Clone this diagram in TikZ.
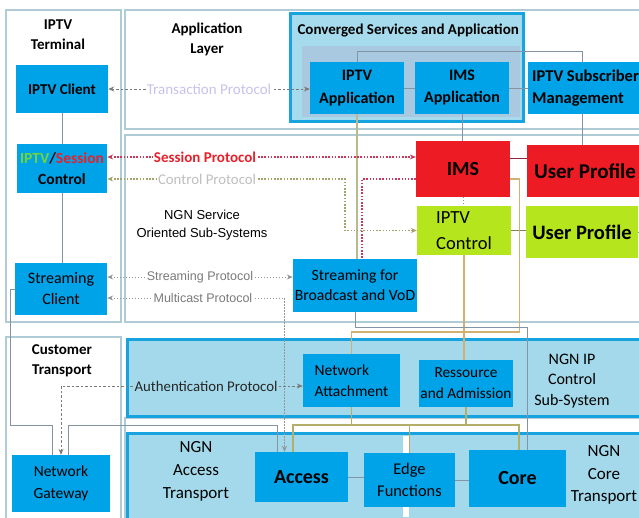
\documentclass[tikz,border=0pt]{standalone}
\usepackage{fontspec}
\setmainfont{Carlito}
\newfontfamily\arialfont{Liberation Sans}
\usepackage{tikz}
\usetikzlibrary{arrows.meta}
\usetikzlibrary{calc}
\definecolor{boxblue}{HTML}{00A2E8}
\definecolor{panelline}{HTML}{AFCBD5}
\definecolor{ngnblue}{HTML}{16A3E0}
\definecolor{ngnfill}{HTML}{A3D9EA}
\definecolor{convfill}{HTML}{A5DBEC}
\definecolor{convinner}{HTML}{A9C9E0}
\definecolor{imsred}{HTML}{ED1C24}
\definecolor{iptvgreen}{HTML}{B5E61D}
\definecolor{linkgray}{HTML}{8494A4}
\definecolor{sessred}{HTML}{C8385A}
\definecolor{ctlolive}{HTML}{A3A36A}
\definecolor{tanline}{HTML}{D2B071}
\definecolor{oliveline}{HTML}{B9B98C}
\definecolor{busline}{HTML}{B3AE6A}
\definecolor{lavender}{HTML}{C9C2EA}
\definecolor{sessionred}{HTML}{E8202A}
\definecolor{termgreen}{HTML}{72D63A}
\definecolor{protogray}{HTML}{7A7A7A}

\begin{document}
\begin{tikzpicture}[x=1pt,y=-1pt,
  panel/.style={draw=panelline,line width=1.5pt},
  ngnpanel/.style={draw=ngnblue,line width=3pt,fill=ngnfill},
  box/.style={fill=boxblue,inner sep=0pt,align=center},
  redbox/.style={box,fill=imsred},
  greenbox/.style={box,fill=iptvgreen},
  layertitle/.style={align=center,font=\fontsize{15}{20}\selectfont\bfseries},
  link/.style={draw=linkgray,line width=1pt},
  tanl/.style={draw=tanline,line width=1.2pt},
  bus/.style={draw=busline,line width=1.2pt},
  tips/.style={arrows={Stealth[length=6pt,width=5pt]-Stealth[length=6pt,width=5pt]}},
  protolbl/.style={fill=white,inner sep=1pt},
  txline/.style={draw=protogray,line width=0.8pt,dash pattern=on 2.5pt off 2pt,tips},
  sessline/.style={draw=sessred,line width=1.5pt,dash pattern=on 1.5pt off 1.7pt},
  ctlline/.style={draw=ctlolive,line width=1.5pt,dash pattern=on 1.5pt off 1.7pt},
  strline/.style={draw=protogray!80,line width=0.8pt,dash pattern=on 1.5pt off 1.5pt,tips}]
\useasboundingbox (0,0) rectangle (639,517);

% layer panels
\draw[panel] (6,10) rectangle (121,322);
\draw[panel] (125,10) rectangle (650,129);
\draw[panel] (125,135) rectangle (650,322);
\draw[panel] (6,337) rectangle (121,530);
\draw[panel] (125,418) rectangle (650,530);
\draw[ngnpanel] (127,339) rectangle (650,416);
\draw[ngnpanel] (127,433) rectangle (650,530);
\fill[white] (403,436) rectangle (409,517);
\draw[draw=ngnblue,line width=3pt,fill=convfill] (290,13) rectangle (523,121);
\fill[convinner] (302,46) rectangle (520,117);

% titles
\node[layertitle] (termlbl) at (58,35) {IPTV\\Terminal};
\node[layertitle] (applbl) at (207,39) {Application\\Layer};
\node[layertitle] (custlbl) at (62,361) {Customer\\Transport};
\node[anchor=west,font=\fontsize{15}{18}\selectfont\bfseries] (convlbl) at (294,30) {Converged Services and Application};
\node[align=center,font=\arialfont\fontsize{13}{18}\selectfont] (ngnsvc) at (202,225) {NGN Service\\Oriented Sub-Systems};
\node[align=center,font=\fontsize{16}{20.5}\selectfont] (ipctl) at (572,381) {NGN IP\\Control\\Sub-System};
\node[align=center,font=\fontsize{17}{23}\selectfont] (acclbl) at (196,471) {NGN\\Access\\Transport};
\node[align=center,font=\fontsize{17}{22.5}\selectfont] (corelbl) at (604,475) {NGN\\Core\\Transport};

% terminal
\node[box,font=\fontsize{15}{20}\selectfont\bfseries,minimum width=92pt,minimum height=48pt] (tclient) at (62,89) {IPTV Client};
\node[box,font=\fontsize{15.5}{21}\selectfont\bfseries,minimum width=90pt,minimum height=49pt] (sessctl) at (62,168.5) {\textcolor{termgreen}{IPTV}/\textcolor{sessionred}{Session}\\Control};
\node[box,font=\fontsize{16}{21}\selectfont,minimum width=92pt,minimum height=52pt] (sclient) at (61,289) {Streaming\\Client};

% application layer
\node[box,font=\fontsize{16}{23}\selectfont\bfseries,minimum width=94pt,minimum height=52pt] (iptvapp) at (357,88) {IPTV\\Application};
\node[box,font=\fontsize{16}{22}\selectfont\bfseries,minimum width=94pt,minimum height=52pt] (imsapp) at (462,88) {IMS\\Application};
\node[box,font=\fontsize{16.5}{22}\selectfont\bfseries,anchor=west,inner xsep=4pt,minimum height=52pt,align=left] (subscr) at (528,88) {IPTV Subscriber\\Management};

% service sub-systems
\node[redbox,font=\fontsize{20}{24}\selectfont\bfseries,minimum width=94pt,minimum height=56pt] (ims) at (463,169) {IMS};
\node[redbox,font=\fontsize{21}{25}\selectfont\bfseries,minimum width=116pt,minimum height=52pt] (uprofr) at (585,171) {User Profile};
\node[greenbox,font=\fontsize{18.5}{26}\selectfont,minimum width=94pt,minimum height=49pt,align=left] (iptvctl) at (464,230.5) {IPTV\\Control};
\node[greenbox,font=\fontsize{20.5}{25}\selectfont\bfseries,minimum width=112pt,minimum height=52pt] (uprofg) at (582,232) {User Profile};
\node[box,font=\fontsize{15.7}{20}\selectfont,minimum width=124pt,minimum height=53pt] (stream) at (355,285.5) {Streaming for\\Broadcast and VoD};

% transport
\node[box,font=\fontsize{15.5}{21}\selectfont,minimum width=97pt,minimum height=53pt,align=left] (netatt) at (351.5,380.5) {Network\\Attachment};
\node[box,font=\fontsize{15.3}{21}\selectfont,minimum width=94pt,minimum height=47pt] (ressource) at (466,383.5) {Ressource\\and Admission};
\node[box,font=\fontsize{15.5}{22}\selectfont,minimum width=98pt,minimum height=57pt] (gateway) at (61,483.5) {Network\\Gateway};
\node[box,font=\fontsize{20}{24}\selectfont\bfseries,minimum width=93pt,minimum height=50pt] (access) at (301.5,477) {Access};
\node[box,font=\fontsize{16.4}{22}\selectfont,minimum width=91pt,minimum height=54pt] (edge) at (409.5,480) {Edge\\Functions};
\node[box,font=\fontsize{20}{24}\selectfont\bfseries,minimum width=97pt,minimum height=57pt] (core) at (517.5,478.5) {Core};

% plain links
\coordinate (busY) at (0,425);
\coordinate (gwin) at ([xshift=-9pt]gateway.north);
\coordinate (gwout) at ([xshift=7pt]gateway.north);
\coordinate (accin) at ([xshift=-24.5pt]access.north);
\coordinate (subtop) at (582,0);
\draw[link] (tclient.south) -- (tclient.south |- sessctl.north);
\draw[link] (sessctl.south) -- (sessctl.south |- sclient.north);
\draw[link] (sclient.west) -- ++(-4,0) |- (gwin |- busY) -- (gwin);
\draw[link] (gwout) |- (accin |- busY) -- (accin);
\draw[link] (iptvapp.east) -- (imsapp.west);
\draw[link] (imsapp.east) -- (imsapp.east -| subscr.west);
\draw[link] (iptvapp.north) -- ++(0,-10) -| (subtop |- subscr.north);
\draw[link] (subtop |- subscr.south) -- (subtop |- uprofr.north);
\draw[draw=oliveline,line width=1.2pt] (iptvapp.south) -- (iptvapp.south |- stream.north);
\draw[link] (imsapp.south) -- (imsapp.south |- ims.north);
\draw[link,dotted] (ims.south) -- (ims.south |- iptvctl.north);
\coordinate (imsE1) at ([yshift=11pt]ims.east);
\draw[link,draw=sessred!70!black] (imsE1) -- (imsE1 -| uprofr.west);
\draw[link,draw=ctlolive!80!black] (iptvctl.east) -- (iptvctl.east -| uprofg.west);
\draw[link] (uprofg.east) -- ++(8,0);
\coordinate (imsE2) at ([yshift=-10pt]ims.east);
\coordinate (tanY) at (0,332);
\draw[tanl] (imsE2) -- ++(9,0) |- (netatt.north |- tanY) -- (netatt.north);
\draw[tanl] (iptvctl.south) -- (iptvctl.south |- ressource.north);
\coordinate (coreIn) at ([xshift=9.5pt]core.north);
\draw[link] (stream.south) -- ++(0,15) -| (coreIn);
\coordinate (accBus) at ([xshift=-8.5pt]access.north);
\coordinate (coreBus) at ([xshift=1.5pt]core.north);
\draw[bus] (accBus) |- (coreBus |- busY) -- (coreBus);
\draw[bus] (edge.north) -- (edge.north |- busY);
\draw[bus] (netatt.south) -- (netatt.south |- busY);
\draw[bus] (ressource.south) -- (ressource.south |- busY);
\draw[link] (access.east) -- (access.east -| edge.west);
\draw[link] (edge.east) -- (edge.east -| core.west);

% protocols
\draw[txline] (tclient.east) -- (tclient.east -| iptvapp.west) node[midway,protolbl,text=lavender,font=\fontsize{15}{18}\selectfont] {Transaction Protocol};
\coordinate (sessL) at ([yshift=11.5pt]sessctl.east);
\draw[sessline,tips] (sessL) -- (sessL -| ims.west) node[pos=0.317,protolbl,text=sessionred,font=\fontsize{15}{18}\selectfont\bfseries] {Session Protocol};
\coordinate (ctlL) at ([yshift=-10.5pt]sessctl.east);
\coordinate (ctlX) at (345,0);
\draw[ctlline,tips] (ctlL) -| node[pos=0.21,protolbl,text=black!25,font=\fontsize{14.8}{18}\selectfont] {Control Protocol} (ctlX |- iptvctl.west) -- (iptvctl.west);
\coordinate (imsW2) at ([yshift=-10pt]ims.west);
\coordinate (redIn) at ([xshift=7pt]stream.north);
\draw[sessline] (imsW2) -| (redIn);
\coordinate (strL) at ([yshift=12pt]sclient.east);
\draw[strline] (strL) -- (strL -| stream.west) node[midway,protolbl,text=protogray,font=\arialfont\fontsize{12.5}{15}\selectfont] {Streaming Protocol};
\coordinate (mcL) at ([yshift=-9pt]sclient.east);
\coordinate (mcIn) at ([xshift=-17pt]access.north);
\draw[strline] (mcL) -| node[pos=0.27,protolbl,text=protogray,font=\arialfont\fontsize{12.5}{15}\selectfont] {Multicast Protocol} (mcIn);
\coordinate (authR) at ([yshift=-5.5pt]netatt.west);
\draw[txline] (authR) -| node[pos=0.2,protolbl,fill=ngnfill,text=black!85,font=\fontsize{14.8}{18}\selectfont] {Authentication Protocol} (gateway.north);
\end{tikzpicture}
\end{document}
